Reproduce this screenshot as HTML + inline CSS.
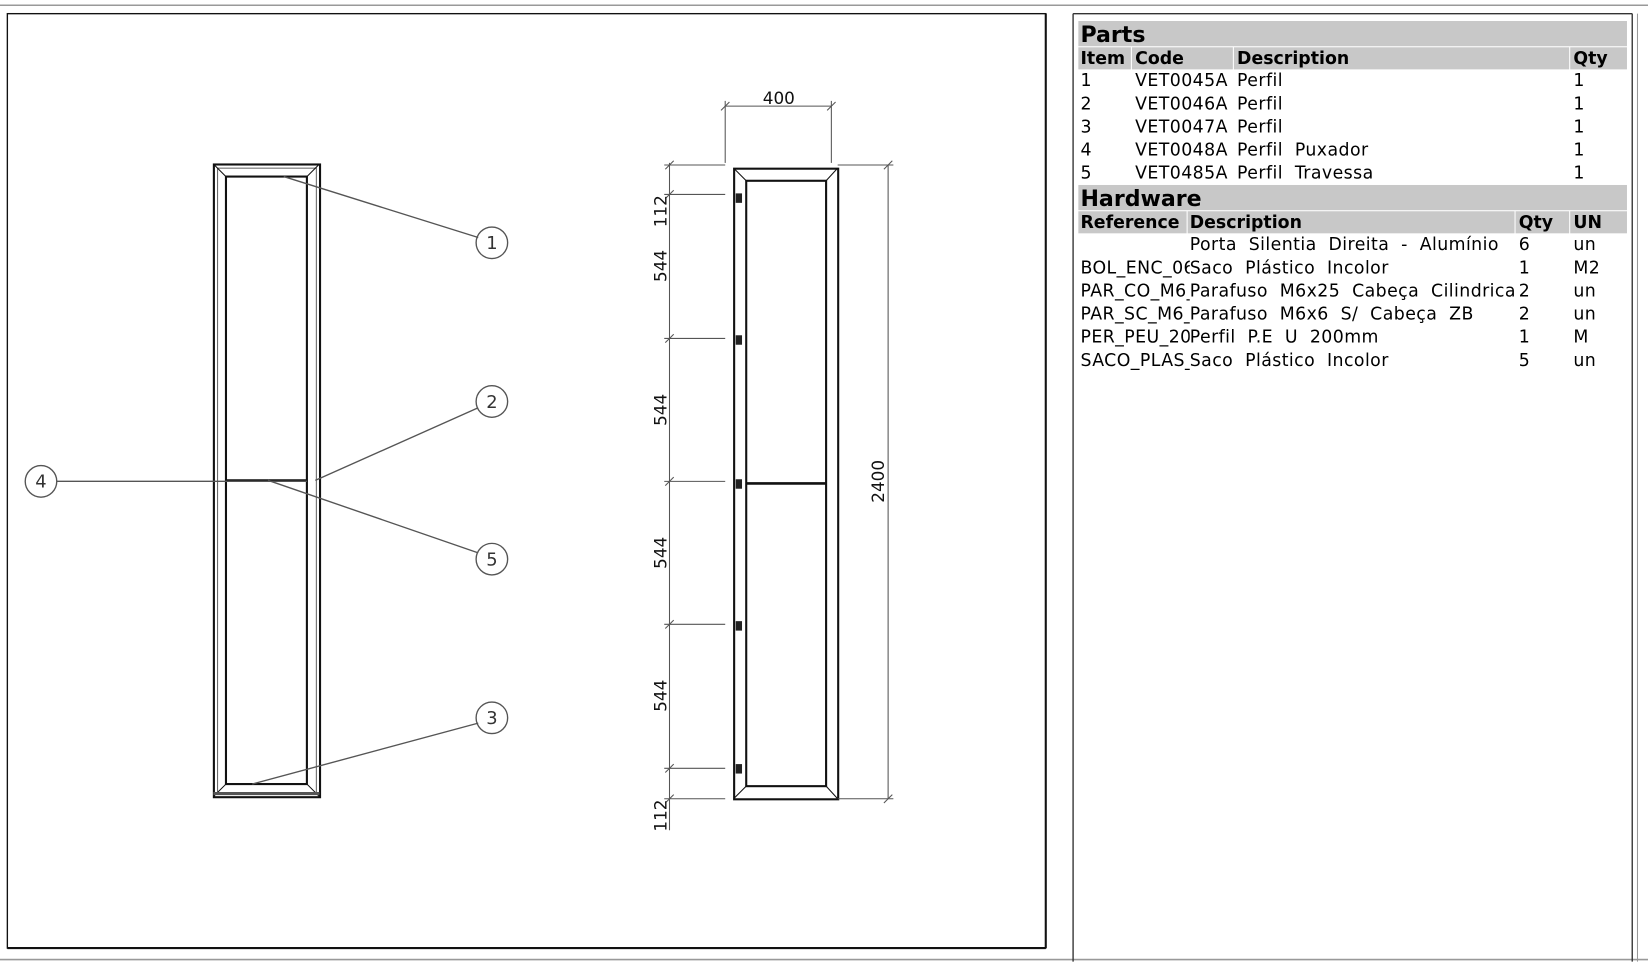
<!DOCTYPE html>
<html><head><meta charset="utf-8"><style>
html,body{margin:0;padding:0;background:#fff;width:1648px;height:972px;overflow:hidden}
#w{position:absolute;left:0;top:0;width:1568px;height:925px;transform:scale(1.05102);transform-origin:0 0}
.t{position:absolute;font-family:"DejaVu Sans","Liberation Sans",sans-serif;font-size:16.5px;letter-spacing:0.4px;color:#000;white-space:pre;line-height:22px}
.b{font-weight:bold;letter-spacing:0}
.bar{position:absolute;background:#c8c8c8}
</style></head><body><div id="w">
<svg width="1568" height="925" style="position:absolute;left:0;top:0" font-family="DejaVu Sans, Liberation Sans, sans-serif">
<line x1="0" y1="5" x2="1568" y2="5" stroke="#999" stroke-width="1.5"/>
<line x1="0" y1="913" x2="1568" y2="913" stroke="#999" stroke-width="1.5"/>
<rect x="7" y="13" width="988" height="889" fill="none" stroke="#111" stroke-width="1.3"/>
<line x1="7" y1="902" x2="995" y2="902" stroke="#111" stroke-width="2"/>
<line x1="995" y1="13" x2="995" y2="902" stroke="#111" stroke-width="2"/>
<line x1="1021" y1="13" x2="1021" y2="915" stroke="#333" stroke-width="1.3"/>
<line x1="1021" y1="13" x2="1553" y2="13" stroke="#333" stroke-width="1.3"/>
<line x1="1553" y1="13" x2="1553" y2="915" stroke="#333" stroke-width="1.3"/>
<line x1="1558" y1="13" x2="1558" y2="915" stroke="#999" stroke-width="1"/>
<g fill="none" stroke="#111">
<rect x="203.5" y="156.5" width="101" height="602" stroke-width="2"/>
<rect x="207" y="160" width="94" height="595" stroke-width="1" stroke="#666"/>
<rect x="215" y="168" width="77" height="578" stroke-width="2"/>
<line x1="203" y1="156" x2="215" y2="168" stroke-width="1"/>
<line x1="304" y1="156" x2="292" y2="168" stroke-width="1"/>
<line x1="203" y1="758" x2="215" y2="746" stroke-width="1"/>
<line x1="304" y1="758" x2="292" y2="746" stroke-width="1"/>
<line x1="215" y1="457" x2="292" y2="457" stroke-width="2"/>
<line x1="203" y1="755" x2="304" y2="755" stroke-width="3" stroke="#555"/>
</g>
<g stroke="#555" stroke-width="1.3" fill="none">
<line x1="270" y1="168" x2="455" y2="226"/>
<line x1="300" y1="457" x2="455" y2="388"/>
<line x1="255" y1="457" x2="455" y2="526"/>
<line x1="240" y1="746" x2="455" y2="688"/>
<line x1="54" y1="458" x2="292" y2="458"/>
<circle cx="468" cy="231" r="15"/><circle cx="468" cy="382" r="15"/><circle cx="468" cy="532" r="15"/><circle cx="468" cy="683" r="15"/><circle cx="39" cy="458" r="15"/>
</g>
<g font-size="17" text-anchor="middle" fill="#333">
<text x="468" y="237">1</text><text x="468" y="388">2</text><text x="468" y="538">5</text><text x="468" y="689">3</text><text x="39" y="464">4</text>
</g>
<g fill="none" stroke="#111">
<rect x="698.5" y="160.5" width="99" height="600" stroke-width="2"/>
<rect x="710" y="172" width="76" height="576" stroke-width="2"/>
<line x1="698" y1="160" x2="710" y2="172" stroke-width="1"/>
<line x1="797" y1="160" x2="786" y2="172" stroke-width="1"/>
<line x1="698" y1="760" x2="710" y2="748" stroke-width="1"/>
<line x1="797" y1="760" x2="786" y2="748" stroke-width="1"/>
<line x1="710" y1="460" x2="786" y2="460" stroke-width="2.5"/>
</g>
<g fill="#222"><rect x="700" y="184" width="6" height="9"/><rect x="700" y="319" width="6" height="9"/><rect x="700" y="456" width="6" height="9"/><rect x="700" y="591" width="6" height="9"/><rect x="700" y="727" width="6" height="9"/></g>
<g stroke="#555" stroke-width="1" fill="none">
<line x1="690" y1="96" x2="690" y2="155"/><line x1="791" y1="96" x2="791" y2="155"/>
<line x1="690" y1="101" x2="791" y2="101"/>
<line x1="686" y1="105" x2="694" y2="97"/><line x1="787" y1="105" x2="795" y2="97"/>
<line x1="797" y1="157" x2="850" y2="157"/><line x1="797" y1="760" x2="850" y2="760"/>
<line x1="845" y1="157" x2="845" y2="760"/>
<line x1="841" y1="161" x2="849" y2="153"/><line x1="841" y1="764" x2="849" y2="756"/>
<line x1="637" y1="155" x2="637" y2="790"/>
<line x1="632" y1="157" x2="690" y2="157"/>
<line x1="632" y1="185" x2="690" y2="185"/>
<line x1="632" y1="322" x2="690" y2="322"/>
<line x1="632" y1="458" x2="690" y2="458"/>
<line x1="632" y1="594" x2="690" y2="594"/>
<line x1="632" y1="731" x2="690" y2="731"/>
<line x1="632" y1="760" x2="690" y2="760"/>
<line x1="633" y1="161" x2="641" y2="153"/><line x1="633" y1="189" x2="641" y2="181"/><line x1="633" y1="326" x2="641" y2="318"/><line x1="633" y1="462" x2="641" y2="454"/><line x1="633" y1="598" x2="641" y2="590"/><line x1="633" y1="735" x2="641" y2="727"/><line x1="633" y1="764" x2="641" y2="756"/>
</g>
<g font-size="16" fill="#111" text-anchor="middle">
<text x="741" y="99">400</text>
<text transform="translate(841,458) rotate(-90)">2400</text>
<text transform="translate(634,201) rotate(-90)">112</text>
<text transform="translate(634,253) rotate(-90)">544</text>
<text transform="translate(634,390) rotate(-90)">544</text>
<text transform="translate(634,526) rotate(-90)">544</text>
<text transform="translate(634,662) rotate(-90)">544</text>
<text transform="translate(634,776) rotate(-90)">112</text>
</g>
</svg>
<div class="bar" style="left:1026px;top:20px;width:522px;height:24px"></div>
<div class="bar" style="left:1026px;top:45px;width:50px;height:21px"></div>
<div class="bar" style="left:1077px;top:45px;width:96px;height:21px"></div>
<div class="bar" style="left:1174px;top:45px;width:319px;height:21px"></div>
<div class="bar" style="left:1494px;top:45px;width:54px;height:21px"></div>
<div class="bar" style="left:1026px;top:176px;width:522px;height:24px"></div>
<div class="bar" style="left:1026px;top:201px;width:103px;height:21px"></div>
<div class="bar" style="left:1130px;top:201px;width:311px;height:21px"></div>
<div class="bar" style="left:1442px;top:201px;width:51px;height:21px"></div>
<div class="bar" style="left:1494px;top:201px;width:54px;height:21px"></div>
<div class="t b" style="left:1028px;top:20px;font-size:21px;line-height:26px">Parts</div>
<div class="t b" style="left:1028px;top:45px">Item</div><div class="t b" style="left:1080px;top:45px">Code</div><div class="t b" style="left:1177px;top:45px">Description</div><div class="t b" style="left:1497px;top:45px">Qty</div>
<div class="t" style="left:1028px;top:66px">1
2
3
4
5</div>
<div class="t" style="left:1080px;top:66px">VET0045A
VET0046A
VET0047A
VET0048A
VET0485A</div>
<div class="t" style="left:1177px;top:66px">Perfil
Perfil
Perfil
Perfil  Puxador
Perfil  Travessa</div>
<div class="t" style="left:1497px;top:66px">1
1
1
1
1</div>
<div class="t b" style="left:1028px;top:176px;font-size:21px;line-height:26px">Hardware</div>
<div class="t b" style="left:1028px;top:201px">Reference</div><div class="t b" style="left:1132px;top:201px">Description</div><div class="t b" style="left:1445px;top:201px">Qty</div><div class="t b" style="left:1497px;top:201px">UN</div>
<div class="t" style="left:1028px;top:222px;width:104px;overflow:hidden">
BOL_ENC_06
PAR_CO_M6_
PAR_SC_M6_
PER_PEU_20
SACO_PLAS_</div>
<div class="t" style="left:1132px;top:222px">Porta  Silentia  Direita  -  Alumínio
Saco  Plástico  Incolor
Parafuso  M6x25  Cabeça  Cilindrica
Parafuso  M6x6  S/  Cabeça  ZB
Perfil  P.E  U  200mm
Saco  Plástico  Incolor</div>
<div class="t" style="left:1445px;top:222px">6
1
2
2
1
5</div>
<div class="t" style="left:1497px;top:222px">un
M2
un
un
M
un</div>
</div></body></html>
